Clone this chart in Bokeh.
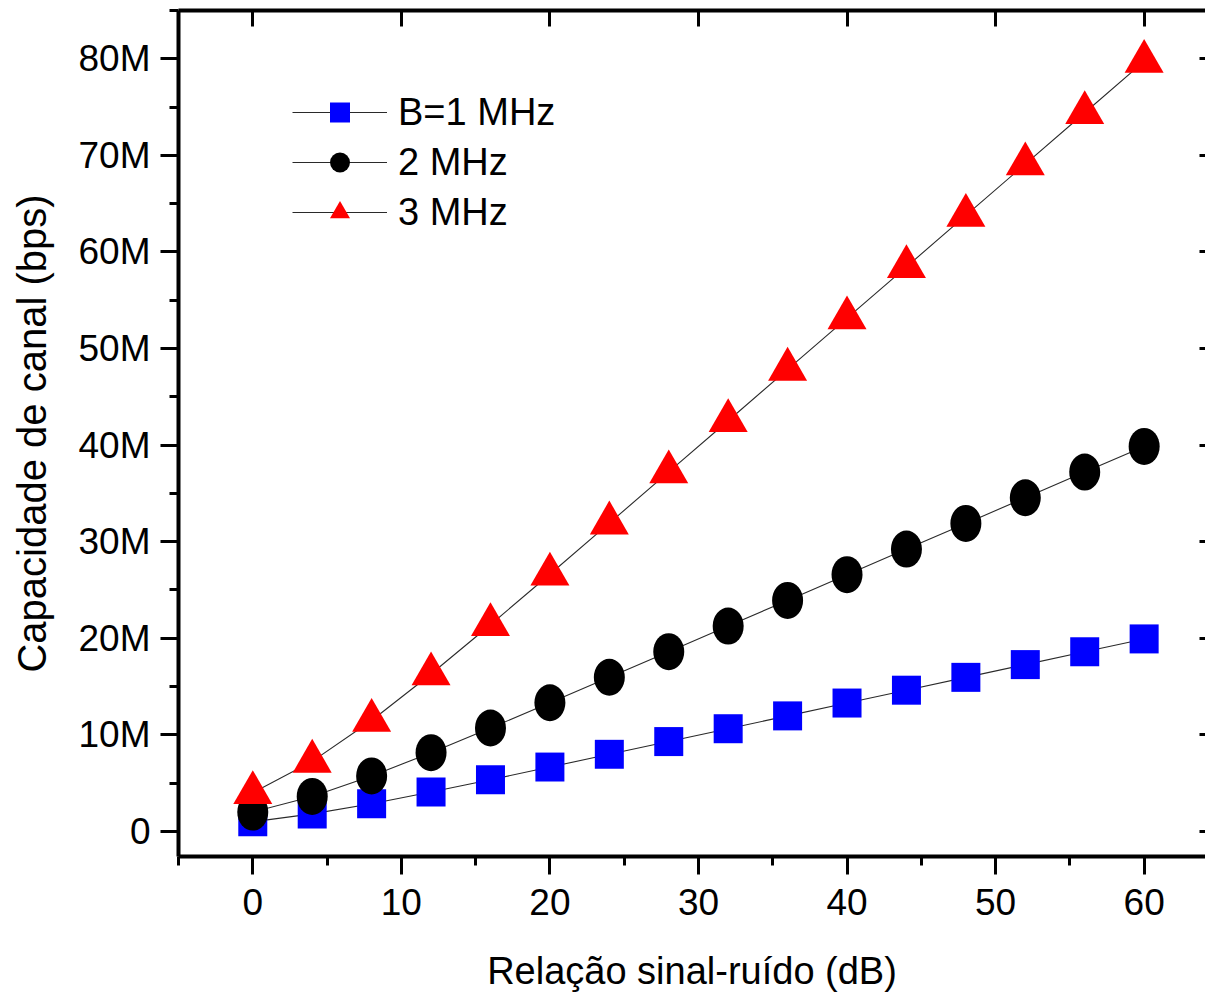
from bokeh.plotting import figure
from bokeh.models import (Range1d, LinearAxis, SingleIntervalTicker, Legend,
                          LegendItem, ColumnDataSource)
from bokeh.embed import file_html
from bokeh.resources import INLINE

# ---- data ----
snr_db = [0, 4, 8, 12, 16, 20, 24, 28, 32, 36, 40, 44, 48, 52, 56, 60]
cap_b1 = [1.00, 1.81, 2.87, 4.08, 5.35, 6.66, 7.98, 9.30, 10.63, 11.96,
          13.29, 14.62, 15.95, 17.27, 18.60, 19.93]
cap_b2 = [2.00, 3.62, 5.74, 8.15, 10.70, 13.32, 15.96, 18.61, 21.26, 23.92,
          26.58, 29.23, 31.89, 34.55, 37.21, 39.86]
cap_b3 = [4.00, 7.25, 11.48, 16.30, 21.40, 26.63, 31.92, 37.22, 42.52, 47.84,
          53.15, 58.46, 63.78, 69.10, 74.41, 79.73]
series_labels = ["B=1 MHz", "2 MHz", "3 MHz"]
y_tick_values = [0, 10, 20, 30, 40, 50, 60, 70, 80]
y_tick_labels = ["0", "10M", "20M", "30M", "40M", "50M", "60M", "70M", "80M"]
x_title = "Relação sinal-ruído (dB)"
y_title = "Capacidade de canal (bps)"

FONT = "Liberation Sans"

p = figure(width=1205, height=999, output_backend="svg", toolbar_location=None,
           x_range=Range1d(-5, 64.13), y_range=Range1d(-2.6, 85),
           min_border_left=178, min_border_right=0, min_border_top=10,
           min_border_bottom=143)
p.xgrid.visible = False
p.ygrid.visible = False
p.outline_line_color = None
p.background_fill_color = "white"
p.border_fill_color = "white"


def style_axis(ax):
    ax.axis_line_width = 4
    ax.axis_line_color = "black"
    ax.major_tick_line_width = 3
    ax.minor_tick_line_width = 3
    ax.major_tick_line_color = "black"
    ax.minor_tick_line_color = "black"
    ax.major_label_text_font = FONT
    ax.major_label_text_font_size = "37px"
    ax.major_label_text_color = "black"
    ax.axis_label_text_font = FONT
    ax.axis_label_text_font_style = "normal"
    ax.axis_label_text_color = "black"


xa = p.xaxis[0]
xa.ticker = SingleIntervalTicker(interval=10, num_minor_ticks=2)
style_axis(xa)
xa.major_tick_out = 18
xa.major_tick_in = 0
xa.minor_tick_out = 9
xa.minor_tick_in = 0
xa.major_label_standoff = 14
xa.axis_label = x_title
xa.axis_label_text_font_size = "38px"
xa.axis_label_standoff = 32

ya = p.yaxis[0]
ya.ticker = SingleIntervalTicker(interval=10, num_minor_ticks=2)
style_axis(ya)
ya.major_tick_out = 18
ya.major_tick_in = 0
ya.minor_tick_out = 9
ya.minor_tick_in = 0
ya.major_label_standoff = 10
ya.major_label_overrides = {v: t for v, t in zip(y_tick_values, y_tick_labels)}
ya.axis_label = y_title
ya.axis_label_text_font_size = "40px"
ya.axis_label_standoff = 22

top = LinearAxis(ticker=SingleIntervalTicker(interval=10, num_minor_ticks=0))
style_axis(top)
top.axis_label = None
top.major_tick_in = 16
top.major_tick_out = 0
top.minor_tick_in = 0
top.minor_tick_out = 0
top.minor_tick_line_color = None
top.major_label_text_font_size = "0px"
top.major_label_text_alpha = 0
top.major_label_standoff = 0
p.add_layout(top, "above")

right = LinearAxis(ticker=SingleIntervalTicker(interval=10, num_minor_ticks=0))
style_axis(right)
right.axis_label = None
right.axis_line_color = None
right.major_tick_in = 6
right.major_tick_out = 0
right.minor_tick_in = 0
right.minor_tick_out = 0
right.minor_tick_line_color = None
right.major_label_text_font_size = "0px"
right.major_label_text_alpha = 0
right.major_label_standoff = 0
p.add_layout(right, "right")

src1 = ColumnDataSource(dict(x=snr_db, y=cap_b1))
src2 = ColumnDataSource(dict(x=snr_db, y=cap_b2))
src3 = ColumnDataSource(dict(x=snr_db, y=cap_b3))

LINE_COL = "#2a2a2a"

l1 = p.line("x", "y", source=src1, line_color=LINE_COL, line_width=1.1)
m1 = p.scatter("x", "y", source=src1, marker="square", size=29,
               fill_color="#0000FF", line_color=None)

l2 = p.line("x", "y", source=src2, line_color=LINE_COL, line_width=1.1)
m2_leg = p.scatter("x", "y", source=src2, marker="circle", size=20,
                   fill_color="black", line_color=None)
p.ellipse("x", "y", source=src2, width=31, height=37, width_units="screen",
          height_units="screen", fill_color="black", line_color=None)

l3 = p.line("x", "y", source=src3, line_color=LINE_COL, line_width=1.1)
m3 = p.scatter("x", "y", source=src3, marker="triangle", size=39,
               fill_color="#FF0000", line_color=None)

legend = Legend(items=[LegendItem(label=series_labels[0], renderers=[l1, m1]),
                       LegendItem(label=series_labels[1], renderers=[l2, m2_leg]),
                       LegendItem(label=series_labels[2], renderers=[l3, m3])],
                location=(114, 619), glyph_width=95, glyph_height=50,
                label_standoff=11, spacing=0, padding=0, margin=0,
                border_line_color=None, background_fill_alpha=0,
                label_text_font=FONT, label_text_font_size="38px",
                label_text_color="black")
p.add_layout(legend)

open("out.html", "w").write(file_html(p, INLINE))
